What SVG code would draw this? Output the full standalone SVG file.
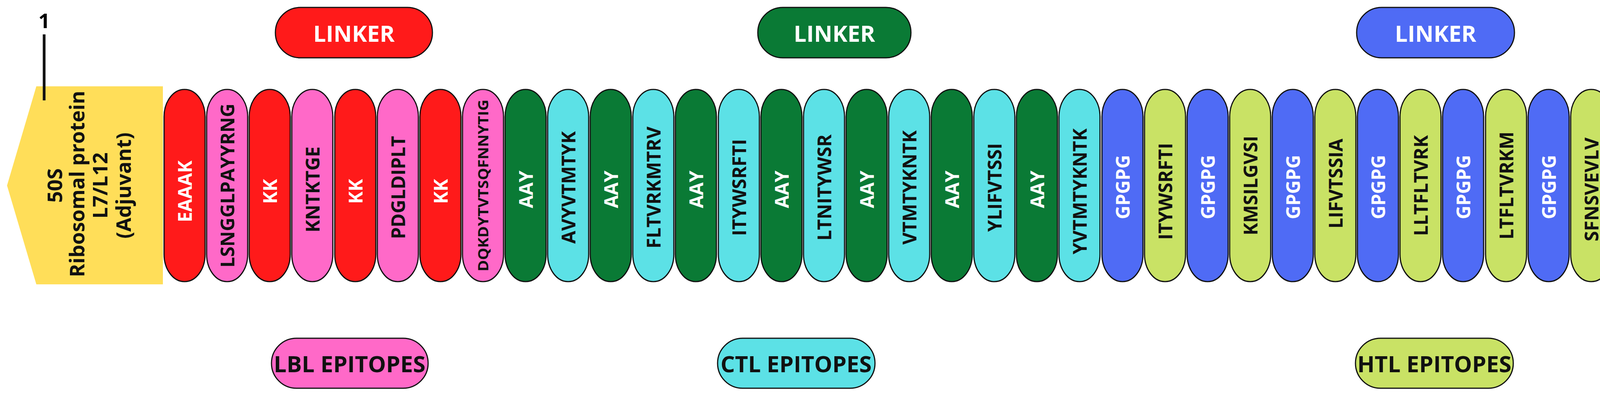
<svg xmlns="http://www.w3.org/2000/svg" width="4364" height="1019" viewBox="0 0 4364 1019">
<style>
.p{stroke:#111;stroke-width:3}
.r{fill:#FF1A1A}.k{fill:#FF69C8}.g{fill:#0A7A35}.c{fill:#5CE1E6}.b{fill:#4F6BF5}.l{fill:#C9E265}
.t{font-family:"Open Sans","DejaVu Sans",sans-serif;font-weight:700;font-size:48px;text-anchor:middle;dominant-baseline:central}
.w{fill:#fff}.d{fill:#111}
.lab{font-family:"Open Sans","DejaVu Sans",sans-serif;font-weight:700;font-size:58px;text-anchor:middle;dominant-baseline:central}
</style>
<rect width="4364" height="1019" fill="#fff"/>
<g id="adjuvant">
<path d="M93 221 H417 V728 H93 L18 475 Z" fill="#FFDE59"/>
<g class="t d" style="font-size:52px">
<text transform="translate(138,475) rotate(-90)">50S</text>
<text transform="translate(195,471) rotate(-90)">Ribosomal protein</text>
<text transform="translate(254,475) rotate(-90)">L7/L12</text>
<text transform="translate(314,475) rotate(-90)">(Adjuvant)</text>
</g>
<line x1="113" y1="88" x2="113" y2="257" stroke="#111" stroke-width="7"/>
<text x="113" y="72" font-family="Open Sans,DejaVu Sans,sans-serif" font-weight="700" font-size="52" text-anchor="middle">1</text>
</g>
<g id="legend">
<g id="linker-red"><rect x="705" y="19" width="402" height="129" rx="64" class="p r"/><text x="906" y="84" class="lab w">LINKER</text></g>
<g id="linker-green"><rect x="1940" y="19" width="392" height="129" rx="64" class="p g"/><text x="2136" y="84" class="lab w">LINKER</text></g>
<g id="linker-blue"><rect x="3473" y="19" width="404" height="129" rx="64" class="p b"/><text x="3675" y="84" class="lab w">LINKER</text></g>
<g id="lbl"><rect x="695" y="866" width="401" height="128" rx="64" class="p k"/><text x="895" y="930" class="lab d">LBL EPITOPES</text></g>
<g id="ctl"><rect x="1837" y="866" width="403" height="128" rx="64" class="p c"/><text x="2038" y="930" class="lab d">CTL EPITOPES</text></g>
<g id="htl"><rect x="3470" y="866" width="404" height="128" rx="64" class="p l"/><text x="3672" y="930" class="lab d">HTL EPITOPES</text></g>
</g>
<g id="pills">
<g id="n1"><rect x="420" y="229" width="105" height="492" rx="52" ry="70" class="p r"/><text class="t w" transform="translate(472,490) rotate(-90)">EAAAK</text></g>
<g id="n2"><rect x="529" y="229" width="105" height="492" rx="52" ry="70" class="p k"/><text class="t d" transform="translate(581,475) rotate(-90)" textLength="420" lengthAdjust="spacingAndGlyphs">LSNGGLPAYYRNG</text></g>
<g id="n3"><rect x="638" y="229" width="105" height="492" rx="52" ry="70" class="p r"/><text class="t w" transform="translate(690,490) rotate(-90)">KK</text></g>
<g id="n4"><rect x="747" y="229" width="105" height="492" rx="52" ry="70" class="p k"/><text class="t d" transform="translate(799,485) rotate(-90)">KNTKTGE</text></g>
<g id="n5"><rect x="857" y="229" width="105" height="492" rx="52" ry="70" class="p r"/><text class="t w" transform="translate(909,490) rotate(-90)">KK</text></g>
<g id="n6"><rect x="966" y="229" width="105" height="492" rx="52" ry="70" class="p k"/><text class="t d" transform="translate(1018,480) rotate(-90)">PDGLDIPLT</text></g>
<g id="n7"><rect x="1075" y="229" width="105" height="492" rx="52" ry="70" class="p r"/><text class="t w" transform="translate(1127,490) rotate(-90)">KK</text></g>
<g id="n8"><rect x="1184" y="229" width="105" height="492" rx="52" ry="70" class="p k"/><text class="t d" transform="translate(1236,475) rotate(-90)" textLength="440" lengthAdjust="spacingAndGlyphs" style="font-size:36px">DQKDYTVTSQFNNYTIG</text></g>
<g id="n9"><rect x="1293" y="229" width="105" height="492" rx="52" ry="70" class="p g"/><text class="t w" transform="translate(1345,485) rotate(-90)">AAY</text></g>
<g id="n10"><rect x="1402" y="229" width="105" height="492" rx="52" ry="70" class="p c"/><text class="t d" transform="translate(1454,480) rotate(-90)">AVYVTMTYK</text></g>
<g id="n11"><rect x="1511" y="229" width="105" height="492" rx="52" ry="70" class="p g"/><text class="t w" transform="translate(1563,485) rotate(-90)">AAY</text></g>
<g id="n12"><rect x="1620" y="229" width="105" height="492" rx="52" ry="70" class="p c"/><text class="t d" transform="translate(1672,480) rotate(-90)">FLTVRKMTRV</text></g>
<g id="n13"><rect x="1729" y="229" width="105" height="492" rx="52" ry="70" class="p g"/><text class="t w" transform="translate(1781,485) rotate(-90)">AAY</text></g>
<g id="n14"><rect x="1839" y="229" width="105" height="492" rx="52" ry="70" class="p c"/><text class="t d" transform="translate(1891,480) rotate(-90)">ITYWSRFTI</text></g>
<g id="n15"><rect x="1948" y="229" width="105" height="492" rx="52" ry="70" class="p g"/><text class="t w" transform="translate(2000,485) rotate(-90)">AAY</text></g>
<g id="n16"><rect x="2057" y="229" width="105" height="492" rx="52" ry="70" class="p c"/><text class="t d" transform="translate(2109,480) rotate(-90)">LTNITYWSR</text></g>
<g id="n17"><rect x="2166" y="229" width="105" height="492" rx="52" ry="70" class="p g"/><text class="t w" transform="translate(2218,485) rotate(-90)">AAY</text></g>
<g id="n18"><rect x="2275" y="229" width="105" height="492" rx="52" ry="70" class="p c"/><text class="t d" transform="translate(2327,480) rotate(-90)">VTMTYKNTK</text></g>
<g id="n19"><rect x="2384" y="229" width="105" height="492" rx="52" ry="70" class="p g"/><text class="t w" transform="translate(2436,485) rotate(-90)">AAY</text></g>
<g id="n20"><rect x="2493" y="229" width="105" height="492" rx="52" ry="70" class="p c"/><text class="t d" transform="translate(2545,480) rotate(-90)">YLIFVTSSI</text></g>
<g id="n21"><rect x="2602" y="229" width="105" height="492" rx="52" ry="70" class="p g"/><text class="t w" transform="translate(2654,485) rotate(-90)">AAY</text></g>
<g id="n22"><rect x="2711" y="229" width="105" height="492" rx="52" ry="70" class="p c"/><text class="t d" transform="translate(2763,490) rotate(-90)">YVTMTYKNTK</text></g>
<g id="n23"><rect x="2821" y="229" width="105" height="492" rx="52" ry="70" class="p b"/><text class="t w" transform="translate(2873,479) rotate(-90)">GPGPG</text></g>
<g id="n24"><rect x="2930" y="229" width="105" height="492" rx="52" ry="70" class="p l"/><text class="t d" transform="translate(2982,490) rotate(-90)">ITYWSRFTI</text></g>
<g id="n25"><rect x="3039" y="229" width="105" height="492" rx="52" ry="70" class="p b"/><text class="t w" transform="translate(3091,479) rotate(-90)">GPGPG</text></g>
<g id="n26"><rect x="3148" y="229" width="105" height="492" rx="52" ry="70" class="p l"/><text class="t d" transform="translate(3200,475) rotate(-90)">KMSILGVSI</text></g>
<g id="n27"><rect x="3257" y="229" width="105" height="492" rx="52" ry="70" class="p b"/><text class="t w" transform="translate(3309,479) rotate(-90)">GPGPG</text></g>
<g id="n28"><rect x="3366" y="229" width="105" height="492" rx="52" ry="70" class="p l"/><text class="t d" transform="translate(3418,470) rotate(-90)">LIFVTSSIA</text></g>
<g id="n29"><rect x="3475" y="229" width="105" height="492" rx="52" ry="70" class="p b"/><text class="t w" transform="translate(3527,479) rotate(-90)">GPGPG</text></g>
<g id="n30"><rect x="3584" y="229" width="105" height="492" rx="52" ry="70" class="p l"/><text class="t d" transform="translate(3636,475) rotate(-90)">LLTFLTVRK</text></g>
<g id="n31"><rect x="3693" y="229" width="105" height="492" rx="52" ry="70" class="p b"/><text class="t w" transform="translate(3745,479) rotate(-90)">GPGPG</text></g>
<g id="n32"><rect x="3803" y="229" width="105" height="492" rx="52" ry="70" class="p l"/><text class="t d" transform="translate(3855,475) rotate(-90)">LTFLTVRKM</text></g>
<g id="n33"><rect x="3912" y="229" width="105" height="492" rx="52" ry="70" class="p b"/><text class="t w" transform="translate(3964,479) rotate(-90)">GPGPG</text></g>
<g id="n34"><rect x="4021" y="229" width="105" height="492" rx="52" ry="70" class="p l"/><text class="t d" transform="translate(4073,485) rotate(-90)">SFNSVEVLV</text></g>
<g id="n35"><rect x="4130" y="229" width="105" height="492" rx="52" ry="70" class="p b"/><text class="t w" transform="translate(4182,479) rotate(-90)">GPGPG</text></g>
<g id="n36"><rect x="4239" y="229" width="105" height="492" rx="52" ry="70" class="p l"/><text class="t d" transform="translate(4300,460) rotate(-90)">YVTMTYKNT</text></g>
</g>
<g id="connectors" fill="none" stroke="#111" stroke-width="3">
<polyline points="4267,668 4300,668 4300,815"/>
<line x1="4300" y1="815" x2="4320" y2="857" stroke-dasharray="4,4"/>
<circle cx="4267" cy="668" r="4" fill="#111"/>
<circle cx="4320" cy="857" r="4" fill="#111"/>
</g>
<text x="4238" y="926" font-family="Open Sans,DejaVu Sans,sans-serif" font-weight="700" font-size="54" text-anchor="middle" fill="#111">HHHHHH</text>
</svg>
